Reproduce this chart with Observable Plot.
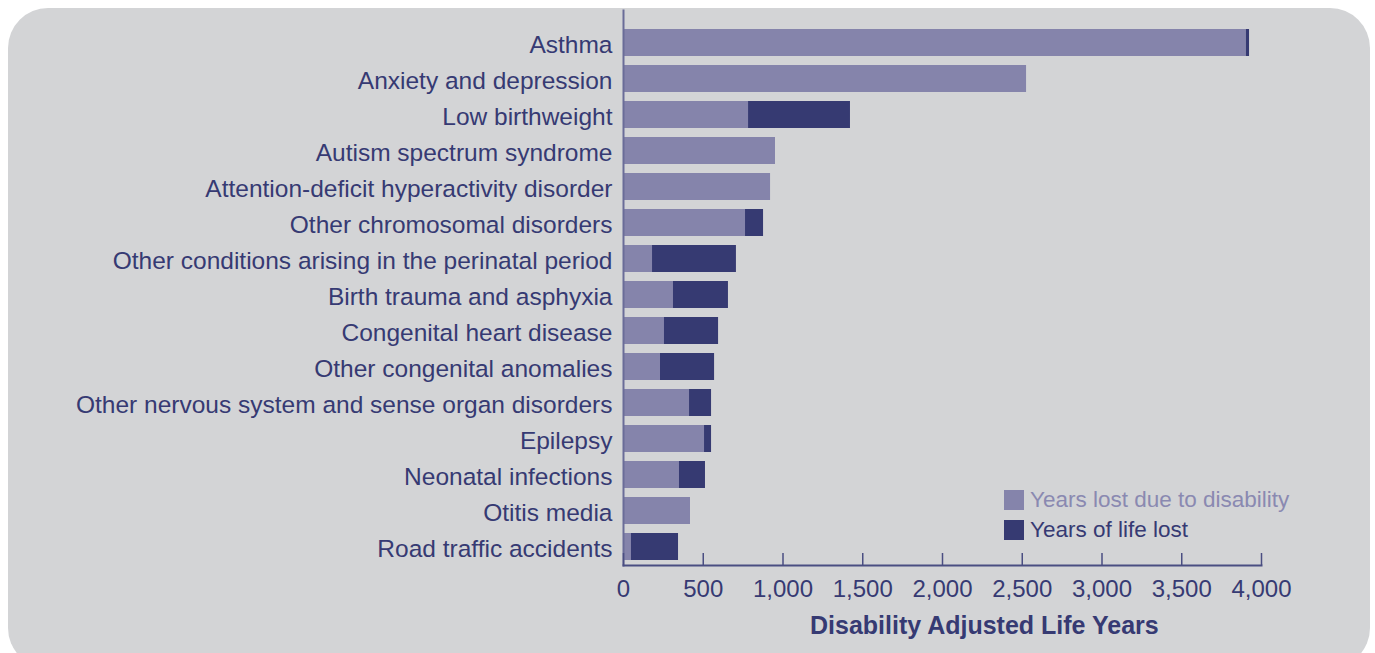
<!DOCTYPE html>
<html><head><meta charset="utf-8">
<script src="https://cdn.jsdelivr.net/npm/d3@7"></script>
<script src="https://cdn.jsdelivr.net/npm/@observablehq/plot@0.6"></script>
<style>
body{margin:0;background:#fff;}
#wrap{position:relative;width:1375px;height:653px;overflow:hidden;background:#fff;font-family:"Liberation Sans",Arial,sans-serif;}
#bg{position:absolute;left:8px;top:8px;width:1362px;height:660px;border-radius:40px;background:#d3d4d6;}
#chart{position:absolute;left:0;top:0;}
#xtitle{position:absolute;left:810px;top:613px;font-size:25px;line-height:1;font-weight:bold;color:#363a73;white-space:nowrap;}
.leg{position:absolute;left:1004px;font-size:22.5px;line-height:1;white-space:nowrap;display:flex;align-items:center;}
.leg span.sw{display:inline-block;width:20px;height:20px;margin-right:6px;}
</style></head>
<body><div id="wrap"><div id="bg"></div><div id="chart"></div>
<div id="xtitle">Disability Adjusted Life Years</div>
<div class="leg" style="top:489px;color:#8a89b1"><span class="sw" style="background:#8584ab"></span>Years lost due to disability</div>
<div class="leg" style="top:519px;color:#363a73"><span class="sw" style="background:#363a72"></span>Years of life lost</div>
</div>
<script>
const causes = ["Asthma","Anxiety and depression","Low birthweight","Autism spectrum syndrome","Attention-deficit hyperactivity disorder","Other chromosomal disorders","Other conditions arising in the perinatal period","Birth trauma and asphyxia","Congenital heart disease","Other congenital anomalies","Other nervous system and sense organ disorders","Epilepsy","Neonatal infections","Otitis media","Road traffic accidents"];
const yld = [3905,2527,784,953,922,765,182,313,257,232,414,508,351,420,50];
const yll = [20,0,639,0,0,113,526,345,339,339,138,44,163,0,295];
const seriesNames = ["Years lost due to disability","Years of life lost"];
const seriesColors = ["#8584ab","#363a72"];
const xTicks = [0,500,1000,1500,2000,2500,3000,3500,4000];

const data = [];
causes.forEach((c,i)=>{
  data.push({cause:c, type:seriesNames[0], value:yld[i]});
  data.push({cause:c, type:seriesNames[1], value:yll[i]});
});

const chart = Plot.plot({
  width:1375, height:653,
  marginLeft:623, marginRight:114, marginTop:10, marginBottom:88,
  insetTop:14,
  style:{background:"transparent", color:"#363a73", fontFamily:"'Liberation Sans', Arial, sans-serif"},
  x:{domain:[0,4000]},
  y:{domain:causes, paddingInner:0.26, paddingOuter:0.1},
  color:{domain:seriesNames, range:seriesColors},
  marks:[
    Plot.barX(data, {y:"cause", x:"value", fill:"type", order:seriesNames}),
    Plot.frame({anchor:"left", stroke:"#6a6c98", strokeWidth:2}),
    Plot.frame({anchor:"bottom", stroke:"#4a4e82", strokeWidth:2}),
    Plot.tickX(xTicks, {x:d=>d, stroke:"#4a4e82", strokeWidth:1.5, insetTop:543}),
    Plot.axisX({ticks:xTicks, tickFormat:d3.format(","), tickSize:0, tickPadding:14, fontSize:24, label:null}),
    Plot.axisY({tickSize:0, tickPadding:11, fontSize:24.5, dy:2.5, label:null})
  ]
});
document.getElementById("chart").appendChild(chart);
</script></body></html>
